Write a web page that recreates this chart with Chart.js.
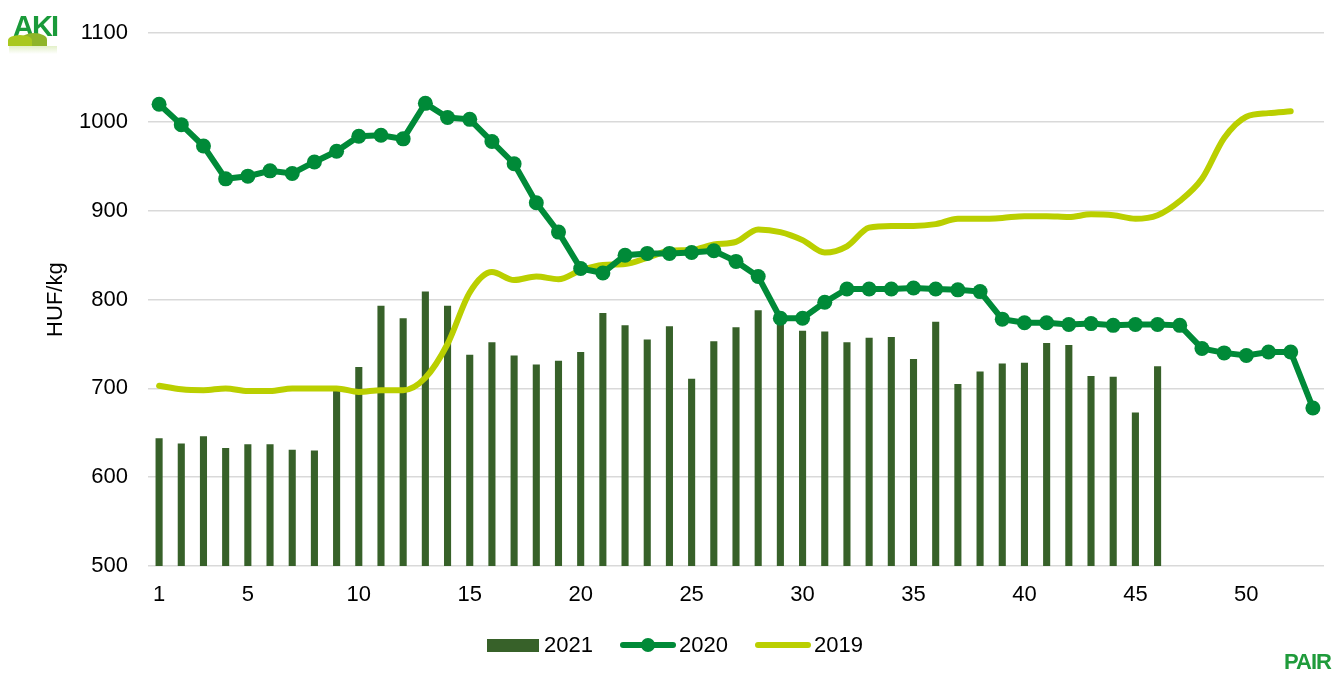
<!DOCTYPE html>
<html>
<head>
<meta charset="utf-8">
<script src="https://cdn.jsdelivr.net/npm/chart.js@4"></script>
<style>
  body { margin: 0; background: #fff; font-family: 'Liberation Sans', Arial, sans-serif; }
  #wrap { position: relative; width: 1340px; height: 673px; overflow: hidden; }
  #chart { position: absolute; left: 0; top: 0; }
  .legend-item { position: absolute; top: 633px; height: 24px; font-size: 22px; color: #000; line-height: 24px; }
  .sw-bar { position: absolute; left: 0; top: 6px; width: 52px; height: 13px; background: #376129; }
  .sw-line { position: absolute; left: 0; top: 9px; width: 56px; height: 6px; border-radius: 3px; }
  .sw-dot { position: absolute; left: 21px; top: 5px; width: 14px; height: 14px; border-radius: 50%; background: #008a38; }
  .legend-item span.txt { position: absolute; top: 0; white-space: nowrap; }
  #aki { position: absolute; left: 8px; top: 8px; width: 54px; height: 46px; }
  #aki .letters { position: absolute; left: 5px; top: 4px; font: bold 29px 'Liberation Sans', Arial, sans-serif; color: #1a9a3a; letter-spacing: -2px; line-height: 29px; }
  #aki .hill1 { position: absolute; left: 0px; top: 27px; width: 24px; height: 11px; border-radius: 50% 50% 0 0; background: #a9c81f; }
  #aki .hill2 { position: absolute; left: 13px; top: 25px; width: 26px; height: 13px; border-radius: 50% 50% 0 0; background: #8fb52a; }
  #aki .refl { position: absolute; left: 1px; top: 38px; width: 48px; height: 8px; background: linear-gradient(#e3f0c8, #fff); }
  #pair { position: absolute; left: 1284px; top: 649px; font: bold 22px 'Liberation Sans Narrow', 'Liberation Sans', Arial, sans-serif; color: #1f9b3b; letter-spacing: -1px; }
</style>
</head>
<body>
<div id="wrap">
  <canvas id="chart" width="1340" height="673"></canvas>
  <div id="aki"><div class="letters">AKI</div><div class="hill2"></div><div class="hill1"></div><div class="refl"></div></div>
  <div id="pair">PAIR</div>
  <div class="legend-item" style="left:487px; width:110px;"><div class="sw-bar"></div><span class="txt" style="left:57px;">2021</span></div>
  <div class="legend-item" style="left:620px; width:115px;"><div class="sw-line" style="background:#008a38;"></div><div class="sw-dot"></div><span class="txt" style="left:59px;">2020</span></div>
  <div class="legend-item" style="left:755px; width:115px;"><div class="sw-line" style="background:#bacf00;"></div><span class="txt" style="left:59px;">2019</span></div>
</div>
<script>
// week numbers on the x axis
const weeks = [1, 2, 3, 4, 5, 6, 7, 8, 9, 10, 11, 12, 13, 14, 15, 16, 17, 18, 19, 20,
  21, 22, 23, 24, 25, 26, 27, 28, 29, 30, 31, 32, 33, 34, 35, 36, 37, 38, 39, 40,
  41, 42, 43, 44, 45, 46, 47, 48, 49, 50, 51, 52, 53];
const shownWeeks = [1, 5, 10, 15, 20, 25, 30, 35, 40, 45, 50];

// HUF/kg, 2021 (bars)
const values2021 = [644, 638, 646, 633, 637, 637, 631, 630, 697, 724, 793, 779, 809,
  793, 738, 752, 737, 727, 731, 741, 785, 771, 755, 770, 711, 753,
  769, 788, 778, 765, 764, 752, 757, 758, 733, 775, 705, 719, 728,
  729, 751, 749, 714, 713, 673, 725];

// HUF/kg, 2020 (line with markers)
const values2020 = [1020, 997, 973, 936, 939, 945, 942, 955, 967, 984, 985, 981, 1021,
  1005, 1003, 978, 953, 909, 876, 835, 830, 850, 852, 852, 853, 855,
  843, 826, 779, 779, 797, 812, 812, 812, 813, 812, 811, 809, 778,
  774, 774, 772, 773, 771, 772, 772, 771, 745, 740, 737, 741, 741, 678];

// HUF/kg, 2019 (line)
const values2019 = [703, 699, 698, 700, 697, 697, 700, 700, 700, 696, 698, 698, 712,
  750, 808, 831, 822, 826, 823, 833, 839, 840, 847, 855, 856, 862,
  865, 879, 876, 867, 853, 860, 881, 883, 883, 885, 891, 891, 892,
  894, 894, 893, 896, 895, 891, 895, 911, 936, 982, 1006, 1010, 1012];

const yTicks = { min: 500, max: 1100, step: 100 };

const FONT = 'Liberation Sans';

new Chart(document.getElementById('chart').getContext('2d'), {
  type: 'bar',
  data: {
    labels: weeks,
    datasets: [
      {
        type: 'bar',
        label: '2021',
        data: values2021,
        backgroundColor: '#376129',
        borderWidth: 0,
        barPercentage: 0.32,
        categoryPercentage: 1,
        order: 3
      },
      {
        type: 'line',
        label: '2020',
        data: values2020,
        borderColor: '#008a38',
        backgroundColor: '#008a38',
        borderWidth: 6,
        pointRadius: 7.5,
        pointBorderWidth: 0,
        pointBackgroundColor: '#008a38',
        tension: 0,
        order: 1
      },
      {
        type: 'line',
        label: '2019',
        data: values2019,
        borderColor: '#bacf00',
        borderWidth: 6,
        pointRadius: 0,
        cubicInterpolationMode: 'monotone',
        borderCapStyle: 'round',
        order: 2
      }
    ]
  },
  options: {
    responsive: false,
    animation: false,
    layout: { padding: { left: 0, right: 16, top: 29, bottom: 0 } },
    plugins: {
      legend: { display: false },
      tooltip: { enabled: false }
    },
    scales: {
      x: {
        offset: true,
        grid: { display: false, drawTicks: false },
        border: { display: false },
        ticks: {
          autoSkip: false,
          maxRotation: 0,
          padding: 16,
          color: '#000',
          font: { family: FONT, size: 22 },
          callback: function (value, index) {
            return shownWeeks.includes(weeks[index]) ? String(weeks[index]) : '';
          }
        },
        afterFit: function (axis) { axis.height = 107; }
      },
      y: {
        min: yTicks.min,
        max: yTicks.max,
        grid: { color: '#d9d9d9', lineWidth: 1.5, drawTicks: false },
        border: { display: false },
        ticks: {
          stepSize: yTicks.step,
          padding: 20,
          color: '#000',
          font: { family: FONT, size: 22 },
          callback: function (value) { return String(value); }
        },
        title: {
          display: true,
          text: 'HUF/kg',
          color: '#000',
          font: { family: FONT, size: 22 },
          padding: { top: 43, bottom: 0 }
        },
        afterFit: function (axis) { axis.width = 148; }
      }
    }
  }
});
</script>
</body>
</html>
